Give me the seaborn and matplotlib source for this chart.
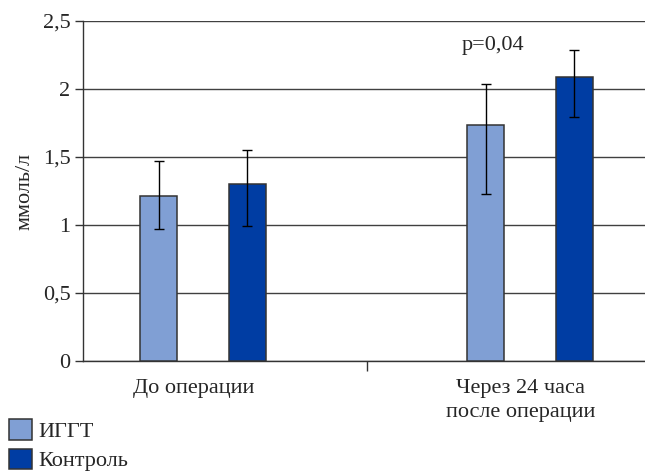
import matplotlib
matplotlib.use("Agg")
import matplotlib.pyplot as plt
import seaborn as sns
import pandas as pd
import numpy as np

# ---- data ----
categories = ["До операции", "Через 24 часа\nпосле операции"]
groups = ["ИГГТ", "Контроль"]
iggt_values = [1.21, 1.735]
control_values = [1.30, 2.09]
iggt_err_low = [0.24, 0.505]
iggt_err_high = [0.26, 0.305]
control_err_low = [0.31, 0.295]
control_err_high = [0.255, 0.195]
y_ticks = [0, 0.5, 1, 1.5, 2, 2.5]
y_tick_labels = ["0", "0,5", "1", "1,5", "2", "2,5"]
y_label = "ммоль/л"
annotation = "p=0,04"

colors = ["#809FD4", "#003DA3"]

df = pd.DataFrame({
    "cat": categories * 2,
    "grp": [groups[0]] * 2 + [groups[1]] * 2,
    "val": iggt_values + control_values,
})

sns.set_theme(style="white")
plt.rcParams["font.family"] = ["Liberation Serif", "DejaVu Serif"]
fs = 16

fig = plt.figure(figsize=(6.45, 4.75), dpi=100)
ax = fig.add_axes([83 / 645, (475 - 361) / 475, (652 - 83) / 645, 340 / 475])

sns.barplot(data=df, x="cat", y="val", hue="grp", order=categories,
            hue_order=groups, palette=colors, width=0.544, gap=0.574,
            edgecolor="#333333", linewidth=1.1, saturation=1,
            errorbar=None, ax=ax, legend=True, zorder=3)

errs_low = [iggt_err_low, control_err_low]
errs_high = [iggt_err_high, control_err_high]
bar_containers = list(ax.containers)
for ci, cont in enumerate(bar_containers):
    xs = [p.get_x() + p.get_width() / 2 for p in cont.patches]
    ys = [p.get_height() for p in cont.patches]
    ax.errorbar(xs, ys, yerr=[errs_low[ci], errs_high[ci]], fmt="none",
                ecolor="black", elinewidth=1.0, capsize=3.5, capthick=1.0,
                zorder=4)

ax.set_ylim(0, 2.5)
ax.set_xlim(-0.367, 1.373)
ax.set_yticks(y_ticks)
ax.set_yticklabels(y_tick_labels, fontsize=fs)
ax.yaxis.grid(True, color="#404040", linewidth=1.0)
ax.set_axisbelow(True)

ax.set_xticks([-0.03, 0.97])
ax.set_xticklabels(categories, fontsize=fs, linespacing=1.35)
ax.tick_params(axis="x", length=0, pad=13)
ax.set_xticks([0.5], minor=True)
ax.tick_params(axis="x", which="minor", length=7, width=1.0, color="#333333",
               direction="out", bottom=True)
ax.tick_params(axis="y", length=6, width=1.0, color="#333333",
               direction="out", left=True, pad=3)
ax.set_xlabel("")
ax.set_ylabel(y_label, fontsize=fs, labelpad=6)

for s in ["top", "right"]:
    ax.spines[s].set_visible(False)
for s in ["left", "bottom"]:
    ax.spines[s].set_color("#333333")
    ax.spines[s].set_linewidth(1.0)

ax.text(0.887, 2.32, annotation, fontsize=fs, ha="center", va="center")

handles, labels = ax.get_legend_handles_labels()
ax.get_legend().remove()
fig.legend(handles, labels, loc="upper left",
           bbox_to_anchor=(9 / 645, (475 - 419) / 475),
           frameon=False, fontsize=fs, handlelength=1.05, handleheight=1.05,
           handletextpad=0.25, labelspacing=0.3, borderpad=0, borderaxespad=0)

fig.savefig("out.png", dpi=100)
